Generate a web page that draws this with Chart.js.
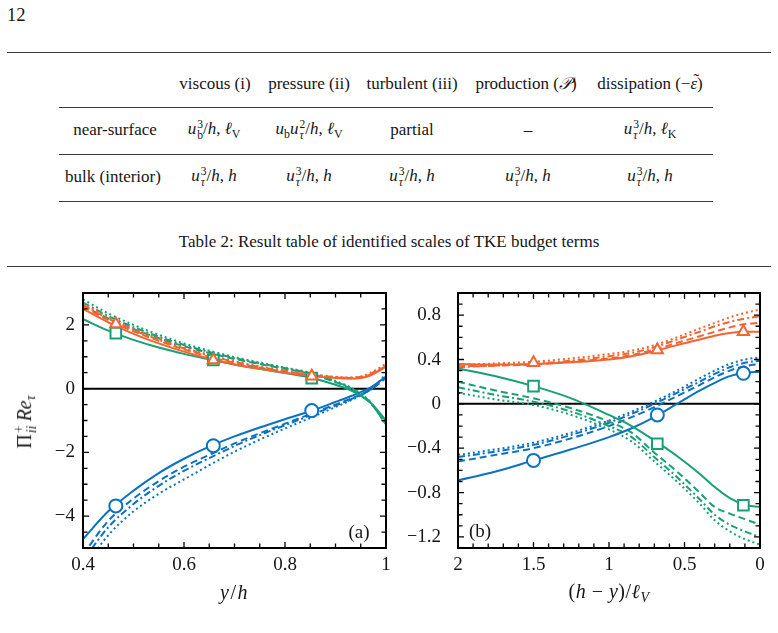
<!DOCTYPE html>
<html>
<head>
<meta charset="utf-8">
<script src="https://cdn.jsdelivr.net/npm/chart.js@4.4.0/dist/chart.umd.min.js"></script>
<style>
  body { margin: 0; background: #fff; font-family: "Liberation Serif", serif; color: #161616; }
  #page { position: relative; width: 778px; height: 633px; overflow: hidden; }
  .abs { position: absolute; white-space: nowrap; line-height: 20px; }
  .c { transform: translate(-50%, -50%); }
  .rule { position: absolute; background: #3a3a3a; }
  .tbl { font-size: 17px; }
  .ss { display: inline-flex; flex-direction: column; vertical-align: middle; font-size: 0.68em; line-height: 0.95; margin-left: 1px; text-align: left; }
  sub { font-size: 0.7em; vertical-align: -0.3em; line-height: 0; }
  .acc { position: relative; display: inline-block; }
  .til { position: absolute; left: 3px; top: -4px; font-style: normal; }
  canvas { position: absolute; }
  .lbl { font-size: 20px; }
</style>
</head>
<body>
<div id="page">
  <div class="abs" style="left:7px;top:5px;font-size:18.5px">12</div>
  <div class="rule" style="left:7px;top:52px;width:764px;height:1px"></div>

  <!-- table 2 -->
  <div class="rule" style="left:59px;top:106.5px;width:654px;height:1.4px"></div>
  <div class="rule" style="left:59px;top:154px;width:654px;height:1px"></div>
  <div class="rule" style="left:59px;top:200.5px;width:654px;height:1.4px"></div>

  <div class="abs c tbl" style="left:215px;top:83.6px">viscous (i)</div>
  <div class="abs c tbl" style="left:309px;top:83.6px">pressure (ii)</div>
  <div class="abs c tbl" style="left:412px;top:83.6px">turbulent (iii)</div>
  <div class="abs c tbl" style="left:526px;top:83.6px">production (<i>𝒫</i>)</div>
  <div class="abs c tbl" style="left:650px;top:83.6px">dissipation (−<span class="acc"><i>ε</i><span class="til">˜</span></span>)</div>

  <div class="abs c tbl" style="left:115px;top:129.5px">near-surface</div>
  <div class="abs c tbl" style="left:214px;top:129.5px"><i>u</i><span class="ss"><span>3</span><span>b</span></span>/<i>h</i>, <i>ℓ</i><sub>V</sub></div>
  <div class="abs c tbl" style="left:309px;top:129.5px"><i>u</i><sub>b</sub><i>u</i><span class="ss"><span>2</span><span><i>τ</i></span></span>/<i>h</i>, <i>ℓ</i><sub>V</sub></div>
  <div class="abs c tbl" style="left:412px;top:129.5px">partial</div>
  <div class="abs c tbl" style="left:528px;top:129.5px">–</div>
  <div class="abs c tbl" style="left:650px;top:129.5px"><i>u</i><span class="ss"><span>3</span><span><i>τ</i></span></span>/<i>h</i>, <i>ℓ</i><sub>K</sub></div>

  <div class="abs c tbl" style="left:113px;top:177px">bulk (interior)</div>
  <div class="abs c tbl" style="left:214px;top:177px"><i>u</i><span class="ss"><span>3</span><span><i>τ</i></span></span>/<i>h</i>, <i>h</i></div>
  <div class="abs c tbl" style="left:309px;top:177px"><i>u</i><span class="ss"><span>3</span><span><i>τ</i></span></span>/<i>h</i>, <i>h</i></div>
  <div class="abs c tbl" style="left:412px;top:177px"><i>u</i><span class="ss"><span>3</span><span><i>τ</i></span></span>/<i>h</i>, <i>h</i></div>
  <div class="abs c tbl" style="left:528px;top:177px"><i>u</i><span class="ss"><span>3</span><span><i>τ</i></span></span>/<i>h</i>, <i>h</i></div>
  <div class="abs c tbl" style="left:650px;top:177px"><i>u</i><span class="ss"><span>3</span><span><i>τ</i></span></span>/<i>h</i>, <i>h</i></div>

  <div class="abs c tbl" style="left:389px;top:242px">Table 2: Result table of identified scales of TKE budget terms</div>
  <div class="rule" style="left:7px;top:266px;width:764px;height:1px"></div>

  <!-- figure -->
  <canvas id="chartA" width="400" height="330" style="left:0;top:280px"></canvas>
  <canvas id="chartB" width="378" height="330" style="left:400px;top:280px"></canvas>

  <div class="abs lbl" style="left:26px;top:422px;transform:translate(-50%,-50%) rotate(-90deg)">Π<span class="ss"><span>+</span><span><i>ii</i></span></span>&thinsp;<i>Re</i><sub><i>τ</i></sub></div>
  <div class="abs c lbl" style="left:234.5px;top:592px;letter-spacing:1.5px"><i>y</i>/<i>h</i></div>
  <div class="abs c lbl" style="left:609px;top:591px;letter-spacing:0.5px">(<i>h</i> − <i>y</i>)/<i>ℓ</i><sub><i>V</i></sub></div>
  <div class="abs c" style="left:359px;top:532px;font-size:19px">(a)</div>
  <div class="abs c" style="left:480px;top:531px;font-size:19px">(b)</div>
</div>

<script>
// ---- panel (a): y/h ----
const aX = [0.40, 0.45, 0.50, 0.55, 0.60, 0.65, 0.70, 0.75, 0.80, 0.85, 0.90, 0.93, 0.95, 0.97, 1.00];
const aOrangeSolid = [2.50, 2.08, 1.72, 1.42, 1.16, 0.94, 0.76, 0.62, 0.50, 0.40, 0.33, 0.31, 0.33, 0.42, 0.68];
const aOrangeDash  = [2.58, 2.15, 1.80, 1.50, 1.23, 1.00, 0.81, 0.66, 0.53, 0.43, 0.35, 0.33, 0.35, 0.45, 0.71];
const aOrangeDDot  = [2.63, 2.20, 1.84, 1.53, 1.26, 1.03, 0.84, 0.68, 0.55, 0.44, 0.36, 0.34, 0.37, 0.47, 0.74];
const aOrangeDot   = [2.68, 2.25, 1.88, 1.57, 1.29, 1.06, 0.86, 0.70, 0.57, 0.46, 0.37, 0.35, 0.38, 0.50, 0.78];
const aGreenSolid  = [2.18, 1.82, 1.53, 1.29, 1.09, 0.92, 0.76, 0.62, 0.49, 0.35, 0.12, -0.05, -0.22, -0.45, -1.00];
const aGreenDash   = [2.60, 2.20, 1.87, 1.58, 1.33, 1.12, 0.93, 0.77, 0.62, 0.46, 0.20, 0.00, -0.20, -0.47, -1.10];
const aGreenDDot   = [2.70, 2.28, 1.93, 1.63, 1.37, 1.15, 0.96, 0.79, 0.64, 0.48, 0.22, 0.02, -0.18, -0.45, -1.12];
const aGreenDot    = [2.80, 2.36, 2.00, 1.69, 1.42, 1.19, 0.99, 0.82, 0.66, 0.50, 0.24, 0.04, -0.16, -0.43, -1.15];
const aBlueSolid   = [-4.72, -3.85, -3.20, -2.65, -2.20, -1.82, -1.50, -1.22, -0.96, -0.71, -0.42, -0.24, -0.11, 0.04, 0.38];
const aBlueDash    = [-5.20, -4.15, -3.45, -2.90, -2.45, -2.08, -1.72, -1.40, -1.10, -0.80, -0.50, -0.32, -0.18, -0.03, 0.33];
const aBlueDDot    = [-5.40, -4.35, -3.62, -3.05, -2.58, -2.18, -1.80, -1.46, -1.15, -0.84, -0.53, -0.34, -0.19, -0.03, 0.38];
const aBlueDot     = [-5.65, -4.60, -3.85, -3.30, -2.85, -2.40, -1.98, -1.60, -1.25, -0.92, -0.58, -0.37, -0.21, -0.02, 0.45];
const aMarkX       = [0.465, 0.658, 0.853];
const aOrangeMark  = [2.03, 0.90, 0.39];
const aGreenMark   = [1.74, 0.90, 0.33];
const aBlueMark    = [-3.68, -1.79, -0.69];
const aXTicks = [0.4, 0.6, 0.8, 1];
const aYTicks = [-4, -2, 0, 2];
const aZeroX = [0.4, 1];

// ---- panel (b): (h-y)/l_V ----
const bX = [2.0, 1.75, 1.5, 1.25, 1.0, 0.85, 0.7, 0.55, 0.4, 0.3, 0.2, 0.1, 0.0];
const bOrangeSolid = [0.36, 0.355, 0.36, 0.375, 0.40, 0.43, 0.475, 0.53, 0.58, 0.615, 0.64, 0.65, 0.65];
const bOrangeDash  = [0.34, 0.345, 0.355, 0.38, 0.41, 0.44, 0.49, 0.55, 0.61, 0.65, 0.69, 0.72, 0.73];
const bOrangeDDot  = [0.33, 0.345, 0.36, 0.39, 0.43, 0.46, 0.51, 0.58, 0.65, 0.70, 0.74, 0.77, 0.79];
const bOrangeDot   = [0.35, 0.365, 0.38, 0.41, 0.45, 0.48, 0.53, 0.60, 0.68, 0.73, 0.78, 0.82, 0.85];
const bGreenSolid  = [0.32, 0.25, 0.16, 0.05, -0.10, -0.20, -0.33, -0.47, -0.63, -0.75, -0.85, -0.91, -0.93];
const bGreenDash   = [0.20, 0.12, 0.05, -0.04, -0.16, -0.26, -0.44, -0.61, -0.80, -0.93, -0.99, -1.04, -1.09];
const bGreenDDot   = [0.15, 0.08, 0.02, -0.07, -0.20, -0.30, -0.48, -0.66, -0.86, -1.00, -1.09, -1.15, -1.20];
const bGreenDot    = [0.10, 0.04, -0.01, -0.10, -0.23, -0.34, -0.52, -0.70, -0.90, -1.05, -1.15, -1.22, -1.27];
const bBlueSolid   = [-0.69, -0.61, -0.51, -0.41, -0.30, -0.22, -0.12, 0.00, 0.12, 0.19, 0.25, 0.28, 0.29];
const bBlueDash    = [-0.52, -0.46, -0.40, -0.31, -0.20, -0.12, -0.03, 0.07, 0.17, 0.24, 0.30, 0.34, 0.36];
const bBlueDDot    = [-0.48, -0.43, -0.37, -0.28, -0.17, -0.09, 0.00, 0.10, 0.20, 0.27, 0.33, 0.37, 0.39];
const bBlueDot     = [-0.46, -0.41, -0.35, -0.26, -0.15, -0.07, 0.02, 0.12, 0.23, 0.30, 0.36, 0.40, 0.42];
const bMarkX       = [1.5, 0.68, 0.11];
const bOrangeMark  = [0.37, 0.486, 0.65];
const bGreenMark   = [0.16, -0.36, -0.915];
const bBlueMark    = [-0.51, -0.10, 0.276];
const bXTicks = [2, 1.5, 1, 0.5, 0];
const bYTicks = [-1.2, -0.8, -0.4, 0, 0.4, 0.8];
const bZeroX = [0, 2];

const ORANGE = '#f26430';
const GREEN = '#17a077';
const BLUE = '#0b72c0';
const DASH = [7, 4];
const DDOT = [7, 3, 2, 3];
const DOT = [2, 3];
const tickFont = { family: '"Liberation Serif", serif', size: 19 };

const pts = (xs, ys) => xs.map((x, i) => ({ x: x, y: ys[i] }));
const fmt = v => String(v).replace('-', '\u2212');

function line(xs, ys, color, dash) {
  return { data: pts(xs, ys), borderColor: color, borderWidth: 2, borderDash: dash || [],
           pointRadius: 0, fill: false, cubicInterpolationMode: 'monotone' };
}
function marks(xs, ys, color, style) {
  return { data: pts(xs, ys), showLine: false, pointStyle: style, pointRadius: style == 'rect' ? 7.5 : 6.5,
           borderColor: color, backgroundColor: '#fff', borderWidth: 2, order: -1 };
}
function zero(xs) {
  return { data: pts(xs, [0, 0]), borderColor: '#000', borderWidth: 2, pointRadius: 0, order: 10 };
}

// frame + inward ticks on all four sides
const frame = {
  id: 'frame',
  afterDatasetsDraw(chart, args, o) {
    const { ctx, chartArea: { left, right, top, bottom }, scales: { x, y } } = chart;
    ctx.save();
    ctx.strokeStyle = '#000';
    ctx.lineWidth = 1.3;
    ctx.beginPath();
    for (let v = x.min + o.xStep; v < x.max - 1e-9; v += o.xStep) {
      const px = x.getPixelForValue(v);
      const len = o.xMajor.some(m => Math.abs(m - v) < 1e-6) ? 6 : 4.5;
      ctx.moveTo(px, bottom); ctx.lineTo(px, bottom - len);
      ctx.moveTo(px, top); ctx.lineTo(px, top + len);
    }
    for (let v = y.min + o.yStep; v < y.max - 1e-9; v += o.yStep) {
      const py = y.getPixelForValue(v);
      const len = o.yMajor.some(m => Math.abs(m - v) < 1e-6) ? 6 : 4.5;
      ctx.moveTo(left, py); ctx.lineTo(left + len, py);
      ctx.moveTo(right, py); ctx.lineTo(right - len, py);
    }
    ctx.stroke();
    ctx.lineWidth = 2;
    ctx.strokeRect(left, top, right - left, bottom - top);
    ctx.restore();
  }
};

function opts(c) {
  const noPad = s => { s.paddingTop = 0; s.paddingBottom = 0; s.paddingLeft = 0; s.paddingRight = 0; };
  return {
    responsive: false, animation: false, devicePixelRatio: 1, events: [],
    layout: { padding: c.pad },
    plugins: { legend: { display: false }, tooltip: { enabled: false }, frame: c.frame },
    scales: {
      x: {
        type: 'linear', min: c.xMin, max: c.xMax, reverse: !!c.reverse,
        grid: { display: false, drawTicks: false }, border: { display: false },
        ticks: { font: tickFont, color: '#161616', padding: 6, maxRotation: 0, callback: v => fmt(v) },
        afterBuildTicks: s => { s.ticks = c.xTicks.map(v => ({ value: v })); },
        afterFit: s => { s.height = 40; noPad(s); }
      },
      y: {
        type: 'linear', min: c.yMin, max: c.yMax,
        grid: { display: false, drawTicks: false }, border: { display: false },
        ticks: { font: tickFont, color: '#161616', padding: c.yPad, callback: v => fmt(v) },
        afterBuildTicks: s => { s.ticks = c.yTicks.map(v => ({ value: v })); },
        afterFit: s => { s.width = c.yW; noPad(s); }
      }
    }
  };
}

// first dataset ends on top: markers (triangle over square), then solid lines
new Chart(document.getElementById('chartA'), {
  type: 'line',
  data: { datasets: [
    zero(aZeroX),
    marks(aMarkX, aOrangeMark, ORANGE, 'triangle'), marks(aMarkX, aGreenMark, GREEN, 'rect'),
    marks(aMarkX, aBlueMark, BLUE, 'circle'),
    line(aX, aOrangeSolid, ORANGE), line(aX, aGreenSolid, GREEN), line(aX, aBlueSolid, BLUE),
    line(aX, aOrangeDash, ORANGE, DASH), line(aX, aOrangeDDot, ORANGE, DDOT), line(aX, aOrangeDot, ORANGE, DOT),
    line(aX, aGreenDash, GREEN, DASH), line(aX, aGreenDDot, GREEN, DDOT), line(aX, aGreenDot, GREEN, DOT),
    line(aX, aBlueDash, BLUE, DASH), line(aX, aBlueDDot, BLUE, DDOT), line(aX, aBlueDot, BLUE, DOT)
  ] },
  options: opts({
    pad: { left: 23, right: 14, top: 13, bottom: 22 }, yW: 60, yPad: 8,
    xMin: 0.4, xMax: 1, yMin: -5, yMax: 3, xTicks: aXTicks, yTicks: aYTicks,
    frame: { xStep: 0.05, yStep: 0.5, xMajor: aXTicks, yMajor: aYTicks }
  }),
  plugins: [frame]
});

new Chart(document.getElementById('chartB'), {
  type: 'line',
  data: { datasets: [
    zero(bZeroX),
    marks(bMarkX, bOrangeMark, ORANGE, 'triangle'), marks(bMarkX, bGreenMark, GREEN, 'rect'),
    marks(bMarkX, bBlueMark, BLUE, 'circle'),
    line(bX, bOrangeSolid, ORANGE), line(bX, bGreenSolid, GREEN), line(bX, bBlueSolid, BLUE),
    line(bX, bOrangeDash, ORANGE, DASH), line(bX, bOrangeDDot, ORANGE, DDOT), line(bX, bOrangeDot, ORANGE, DOT),
    line(bX, bGreenDash, GREEN, DASH), line(bX, bGreenDDot, GREEN, DDOT), line(bX, bGreenDot, GREEN, DOT),
    line(bX, bBlueDash, BLUE, DASH), line(bX, bBlueDDot, BLUE, DDOT), line(bX, bBlueDot, BLUE, DOT)
  ] },
  options: opts({
    pad: { left: 8, right: 18, top: 13, bottom: 22 }, yW: 50, yPad: 17,
    xMin: 0, xMax: 2, reverse: true, yMin: -1.3, yMax: 1, xTicks: bXTicks, yTicks: bYTicks,
    frame: { xStep: 0.1, yStep: 0.1, xMajor: bXTicks, yMajor: bYTicks }
  }),
  plugins: [frame]
});
</script>
</body>
</html>
